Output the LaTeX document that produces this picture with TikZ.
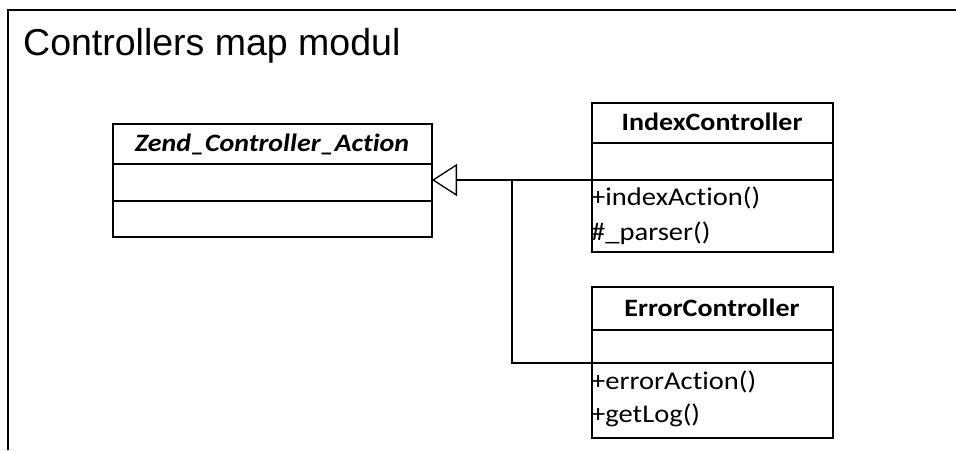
\documentclass[tikz,border=0pt]{standalone}
\usepackage{fontspec}
\setmainfont{Liberation Sans}
\newfontfamily\umlfont[FakeStretch=1.12, Ligatures=NoCommon]{Carlito}
\usetikzlibrary{arrows.meta}
\tikzset{
  classbox/.style={draw, line width=1.6pt, inner sep=0pt, outer sep=0pt, anchor=north west},
  divider/.style={line width=1.6pt},
  hdr/.style={anchor=base, inner sep=0pt, font=\umlfont\bfseries\fontsize{25}{30}\selectfont},
  ahdr/.style={anchor=base, inner sep=0pt, font=\umlfont\bfseries\itshape\fontsize{25}{30}\selectfont},
  mbr/.style={anchor=base west, inner sep=0pt, font=\umlfont\fontsize{25.5}{30}\selectfont},
  conn/.style={line width=1.6pt},
  inh/.style={line width=1.6pt, -{Triangle[open, length=25pt, width=32pt, line width=1.3pt]}},
  frameline/.style={line width=2pt}
}
\begin{document}
\begin{tikzpicture}[x=1pt,y=-1pt]
\useasboundingbox (0,0) rectangle (956,450);
% frame
\draw[frameline] (8,450) -- (8,10) -- (956,10);
\node[anchor=base west, inner sep=0pt, font=\fontsize{37.5}{42}\selectfont] (title) at (23,55) {Controllers map modul};

% Zend_Controller_Action
\node[classbox, minimum width=319pt, minimum height=113pt] (zend) at (113,124) {};
\draw[divider] (113,164) -- (432,164);
\draw[divider] (113,201) -- (432,201);
\node[ahdr] (zendname) at (272,151) {Zend\_Controller\_Action};

% IndexController
\node[classbox, minimum width=241pt, minimum height=149pt] (idx) at (592,103) {};
\draw[divider] (592,143) -- (833,143);
\draw[divider] (592,180) -- (833,180);
\node[hdr] (idxname) at (712,130) {IndexController};
\node[mbr] (idxm1) at (591,205) {+indexAction()};
\node[mbr] (idxm2) at (591,240) {\#\_parser()};

% ErrorController
\node[classbox, minimum width=241pt, minimum height=151pt] (err) at (592,287) {};
\draw[divider] (592,330) -- (833,330);
\draw[divider] (592,363) -- (833,363);
\node[hdr] (errname) at (712,316) {ErrorController};
\node[mbr] (errm1) at (591,389) {+errorAction()};
\node[mbr] (errm2) at (591,422) {+getLog()};

% connectors
\coordinate (idxc) at (idx.west |- 0,180);
\coordinate (errc) at (err.west |- 0,363);
\coordinate (junc) at (512,180);
\coordinate (zendc) at (zend.east |- 0,180);
\draw[inh] (idxc) -- (zendc);
\draw[conn] (errc) -| (junc);
\end{tikzpicture}
\end{document}
